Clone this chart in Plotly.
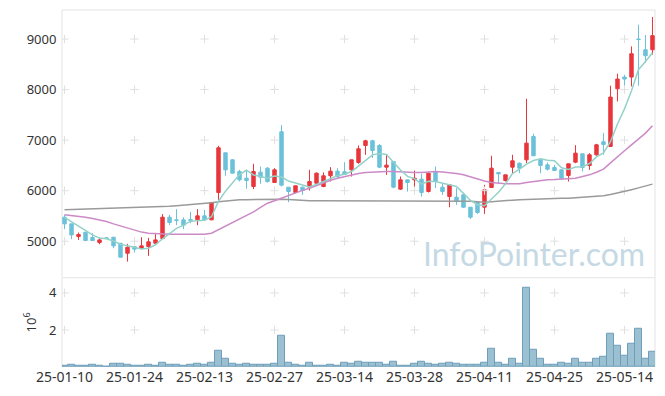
import plotly.graph_objects as go

dates = [
    "25-01-10", "25-01-13", "25-01-14", "25-01-15", "25-01-16", "25-01-17",
    "25-01-20", "25-01-21", "25-01-22", "25-01-23", "25-01-24", "25-01-31",
    "25-02-03", "25-02-04", "25-02-05", "25-02-06", "25-02-07", "25-02-10",
    "25-02-11", "25-02-12", "25-02-13", "25-02-14", "25-02-17", "25-02-18",
    "25-02-19", "25-02-20", "25-02-21", "25-02-24", "25-02-25", "25-02-26",
    "25-02-27", "25-02-28", "25-03-04", "25-03-05", "25-03-06", "25-03-07",
    "25-03-10", "25-03-11", "25-03-12", "25-03-13", "25-03-14", "25-03-17",
    "25-03-18", "25-03-19", "25-03-20", "25-03-21", "25-03-24", "25-03-25",
    "25-03-26", "25-03-27", "25-03-28", "25-03-31", "25-04-01", "25-04-02",
    "25-04-03", "25-04-04", "25-04-07", "25-04-08", "25-04-09", "25-04-10",
    "25-04-11", "25-04-14", "25-04-15", "25-04-16", "25-04-17", "25-04-18",
    "25-04-21", "25-04-22", "25-04-23", "25-04-24", "25-04-25", "25-04-28",
    "25-04-29", "25-04-30", "25-05-02", "25-05-07", "25-05-08", "25-05-09",
    "25-05-12", "25-05-13", "25-05-14", "25-05-15", "25-05-16", "25-05-19",
    "25-05-20",
]

opens = [
    5475, 5343, 5092, 5178, 5073, 4974, 5066, 5079, 4960, 4762,
    4894, 4855, 4894, 4960, 5053, 5475, 5422, 5422, 5430, 5422,
    5502, 5422, 5964, 6749, 6610, 6379, 6247, 6082, 6366, 6445,
    6161, 7165, 6069, 5964, 6069, 6069, 6148, 6082, 6294, 6386,
    6373, 6412, 6558, 6894, 6987, 6894, 6465, 6577, 6030, 6214,
    6214, 6228, 5983, 6379, 6069, 5884, 5871, 5917, 5673, 5766,
    5673, 6063, 6360, 6201, 6465, 6544, 6610, 7072, 6610, 6511,
    6458, 6412, 6300, 6564, 6729, 6498, 6709, 6967, 6874, 8016,
    8247, 8247, 9000, 8788, 8788,
]
highs = [
    5521, 5343, 5172, 5178, 5158, 5066, 5079, 5079, 4960, 4947,
    4894, 5079, 5066, 5139, 5535, 5521, 5634, 5475, 5581, 5634,
    5620, 5766, 6888, 6749, 6623, 6412, 6412, 6531, 6478, 6465,
    6445, 7297, 6069, 6096, 6082, 6412, 6360, 6360, 6465, 6445,
    6564, 6610, 6894, 7006, 7006, 6920, 6709, 6577, 6280, 6214,
    6399, 6333, 6360, 6478, 6148, 6115, 6049, 5950, 5673, 5785,
    6115, 6690, 6360, 6313, 6709, 6558, 7818, 7125, 6643, 6558,
    6511, 6412, 6531, 6900, 6729, 6742, 6927, 7138, 8076, 8313,
    8293, 8854, 9283, 9079, 9435,
]
lows = [
    5238, 5040, 5026, 5013, 5013, 4940, 5040, 4861, 4683, 4597,
    4776, 4842, 4710, 4960, 5040, 5317, 5317, 5238, 5356, 5317,
    5422, 5422, 5818, 6294, 6346, 6181, 6036, 6030, 6135, 6161,
    6161, 6082, 5772, 5950, 5917, 6003, 6096, 6069, 6181, 6247,
    6320, 6280, 6531, 6709, 6643, 6445, 6313, 6049, 6016, 5983,
    6049, 5884, 5964, 6049, 5917, 5673, 5719, 5660, 5442, 5541,
    5541, 6063, 6135, 6181, 6346, 6346, 6544, 6690, 6346, 6399,
    6399, 6214, 6181, 6544, 6379, 6412, 6690, 6709, 6874, 7765,
    8010, 8062, 8076, 8524, 8690,
]
closes = [
    5343, 5125, 5132, 5013, 5013, 5026, 5053, 4908, 4683, 4881,
    4842, 4908, 4987, 5026, 5475, 5370, 5409, 5317, 5415, 5502,
    5422, 5766, 6848, 6412, 6346, 6214, 6201, 6379, 6267, 6181,
    6412, 6109, 5983, 6096, 6003, 6181, 6346, 6294, 6386, 6280,
    6320, 6610, 6828, 6987, 6795, 6465, 6505, 6069, 6214, 6161,
    6247, 5964, 6346, 6181, 5983, 6115, 5785, 5673, 5475, 5568,
    6016, 6445, 6333, 6313, 6590, 6445, 6940, 6690, 6498, 6425,
    6399, 6247, 6531, 6742, 6458, 6709, 6907, 6914, 7851, 8208,
    8208, 8709, 8990, 8670, 9066,
]
volumes = [
    83e3, 136e3, 83e3, 83e3, 136e3, 83e3, 20e3, 190e3, 190e3, 136e3,
    83e3, 83e3, 136e3, 83e3, 243e3, 136e3, 136e3, 83e3, 136e3, 190e3,
    136e3, 243e3, 876e3, 420e3, 190e3, 136e3, 190e3, 136e3, 136e3, 136e3,
    190e3, 1670e3, 243e3, 136e3, 83e3, 243e3, 83e3, 83e3, 110e3, 60e3,
    212e3, 160e3, 265e3, 212e3, 212e3, 212e3, 106e3, 265e3, 53e3, 53e3,
    160e3, 265e3, 160e3, 106e3, 160e3, 212e3, 160e3, 106e3, 106e3, 106e3,
    212e3, 1010e3, 212e3, 106e3, 425e3, 160e3, 4300e3, 956e3, 425e3, 106e3,
    106e3, 212e3, 160e3, 425e3, 212e3, 212e3, 425e3, 530e3, 1810e3, 1170e3,
    584e3, 1270e3, 2070e3, 425e3, 850e3,
]
ma5 = [
    5470, 5380, 5290, 5210, 5125, 5062, 5047, 5003, 4937, 4910,
    4873, 4844, 4860, 4929, 5048, 5153, 5253, 5319, 5397, 5403,
    5413, 5484, 5791, 5990, 6159, 6317, 6404, 6310, 6281, 6248,
    6288, 6270, 6190, 6156, 6121, 6074, 6122, 6184, 6242, 6297,
    6325, 6378, 6485, 6605, 6708, 6737, 6716, 6564, 6410, 6283,
    6239, 6131, 6186, 6180, 6144, 6118, 6082, 5947, 5806, 5723,
    5703, 5835, 5967, 6135, 6339, 6425, 6524, 6596, 6633, 6600,
    6590, 6452, 6420, 6469, 6475, 6537, 6669, 6746, 6968, 7318,
    7618, 7978, 8393, 8557, 8729,
]
ma20 = [
    5521, 5510, 5500, 5475, 5450, 5422, 5390, 5343, 5300, 5255,
    5211, 5180, 5158, 5148, 5142, 5139, 5137, 5137, 5137, 5138,
    5140, 5158, 5230, 5300, 5370, 5430, 5502, 5580, 5670, 5752,
    5800, 5851, 5910, 5964, 6005, 6049, 6105, 6162, 6205, 6247,
    6280, 6313, 6340, 6360, 6370, 6379, 6380, 6379, 6370, 6360,
    6360, 6360, 6370, 6379, 6370, 6360, 6340, 6313, 6270, 6228,
    6190, 6162, 6145, 6135, 6135, 6135, 6160, 6181, 6200, 6214,
    6220, 6228, 6238, 6247, 6280, 6313, 6365, 6425, 6550, 6676,
    6790, 6907, 7020, 7138, 7284,
]
ma60 = [
    5620, 5624, 5628, 5632, 5636, 5640, 5644, 5648, 5652, 5656,
    5660, 5664, 5668, 5673, 5682, 5690, 5700, 5710, 5720, 5730,
    5739, 5760, 5780, 5795, 5808, 5818, 5822, 5826, 5830, 5832,
    5833, 5832, 5825, 5815, 5805, 5800, 5800, 5800, 5801, 5801,
    5801, 5801, 5800, 5800, 5800, 5800, 5800, 5799, 5799, 5799,
    5799, 5799, 5799, 5799, 5799, 5799, 5797, 5795, 5790, 5780,
    5772, 5780, 5795, 5805, 5812, 5818, 5825, 5830, 5835, 5840,
    5845, 5848, 5851, 5860, 5868, 5876, 5884, 5900, 5922, 5950,
    5985, 6020, 6055, 6092, 6129,
]
price_ticks = [5000, 6000, 7000, 8000, 9000]
volume_ticks = [2e6, 4e6]
volume_tick_text = ["2", "4"]
tick_dates = dates[::10]

RED = "#e8363c"
BLUE = "#6bc1d9"
FONT = dict(family="Noto Sans", size=13, color="#333333")
XFONT = dict(family="Noto Sans", size=14, color="#333333")

fig = go.Figure()

# grid "+" marks at tick intersections
gx, gy = [], []
for d in tick_dates:
    for p in price_ticks:
        gx.append(d)
        gy.append(p)
fig.add_trace(go.Scatter(
    x=gx, y=gy, mode="markers", xaxis="x", yaxis="y", hoverinfo="skip",
    marker=dict(symbol="cross-thin", size=6, line=dict(color="#e0e0e0", width=1)),
))
vx, vy = [], []
for d in tick_dates:
    for v in volume_ticks:
        vx.append(d)
        vy.append(v)
fig.add_trace(go.Scatter(
    x=vx, y=vy, mode="markers", xaxis="x2", yaxis="y2", hoverinfo="skip",
    marker=dict(symbol="cross-thin", size=6, line=dict(color="#e0e0e0", width=1)),
))

fig.add_trace(go.Scatter(x=dates, y=ma60, mode="lines", xaxis="x", yaxis="y",
                         line=dict(color="#9a9a9a", width=1.5)))
fig.add_trace(go.Scatter(x=dates, y=ma20, mode="lines", xaxis="x", yaxis="y",
                         line=dict(color="#cc8ac6", width=1.5)))

fig.add_trace(go.Candlestick(
    x=dates, open=opens, high=highs, low=lows, close=closes,
    xaxis="x", yaxis="y",
    increasing=dict(line=dict(color=RED, width=1), fillcolor=RED),
    decreasing=dict(line=dict(color=BLUE, width=1), fillcolor=BLUE),
    whiskerwidth=0,
))

fig.add_trace(go.Scatter(x=dates, y=ma5, mode="lines", xaxis="x", yaxis="y",
                         line=dict(color="#93d2c9", width=1.5)))

fig.add_trace(go.Bar(
    x=dates, y=volumes, xaxis="x2", yaxis="y2",
    marker=dict(color="rgba(130,176,199,0.8)", line=dict(color="#6f9fb8", width=1)),
))

border = "#e3e3e3"
shapes = [
    dict(type="rect", xref="paper", yref="paper", x0=0, x1=1, y0=0.25, y1=1,
         line=dict(color=border, width=1), layer="below"),
    dict(type="line", xref="paper", yref="paper", x0=0, x1=0, y0=0, y1=0.25,
         line=dict(color=border, width=1), layer="below"),
    dict(type="line", xref="paper", yref="paper", x0=1, x1=1, y0=0, y1=0.25,
         line=dict(color=border, width=1), layer="below"),
]

# page body has an 8px default margin, so the figure is sized/offset to compensate
fig.update_layout(
    width=657, height=388,
    margin=dict(l=54, r=10, t=2, b=29, autoexpand=False),
    paper_bgcolor="white", plot_bgcolor="white",
    showlegend=False,
    font=FONT,
    bargap=0,
    shapes=shapes,
    xaxis=dict(type="category", categoryorder="array", categoryarray=dates,
               domain=[0, 1], anchor="y", range=[-0.36, 84.36],
               showticklabels=False, showgrid=False, zeroline=False,
               rangeslider=dict(visible=False), matches="x2"),
    xaxis2=dict(type="category", categoryorder="array", categoryarray=dates,
                domain=[0, 1], anchor="y2", range=[-0.36, 84.36],
                tickmode="array", tickvals=tick_dates, ticktext=tick_dates,
                tickangle=0, showgrid=False, zeroline=False, ticks="", tickfont=XFONT),
    yaxis=dict(domain=[0.25, 1], range=[4277, 9574], tickmode="array",
               tickvals=price_ticks, showgrid=False, zeroline=False,
               ticks="outside", ticklen=2, tickcolor="rgba(0,0,0,0)", tickfont=FONT),
    yaxis2=dict(domain=[0, 0.25], range=[0, 4.82e6], tickmode="array",
                tickvals=volume_ticks, ticktext=volume_tick_text,
                showgrid=False, zeroline=False,
                ticks="outside", ticklen=2, tickcolor="rgba(0,0,0,0)", tickfont=FONT,
                title=dict(text="10<sup>6</sup>", font=FONT, standoff=9)),
    annotations=[dict(
        text="InfoPointer.com", xref="paper", yref="paper", x=0.9865, y=0.318,
        xanchor="right", yanchor="middle", showarrow=False,
        font=dict(family="Lato", size=32, color="#c5d9e4"),
    )],
)

fig.write_html("out.html")
